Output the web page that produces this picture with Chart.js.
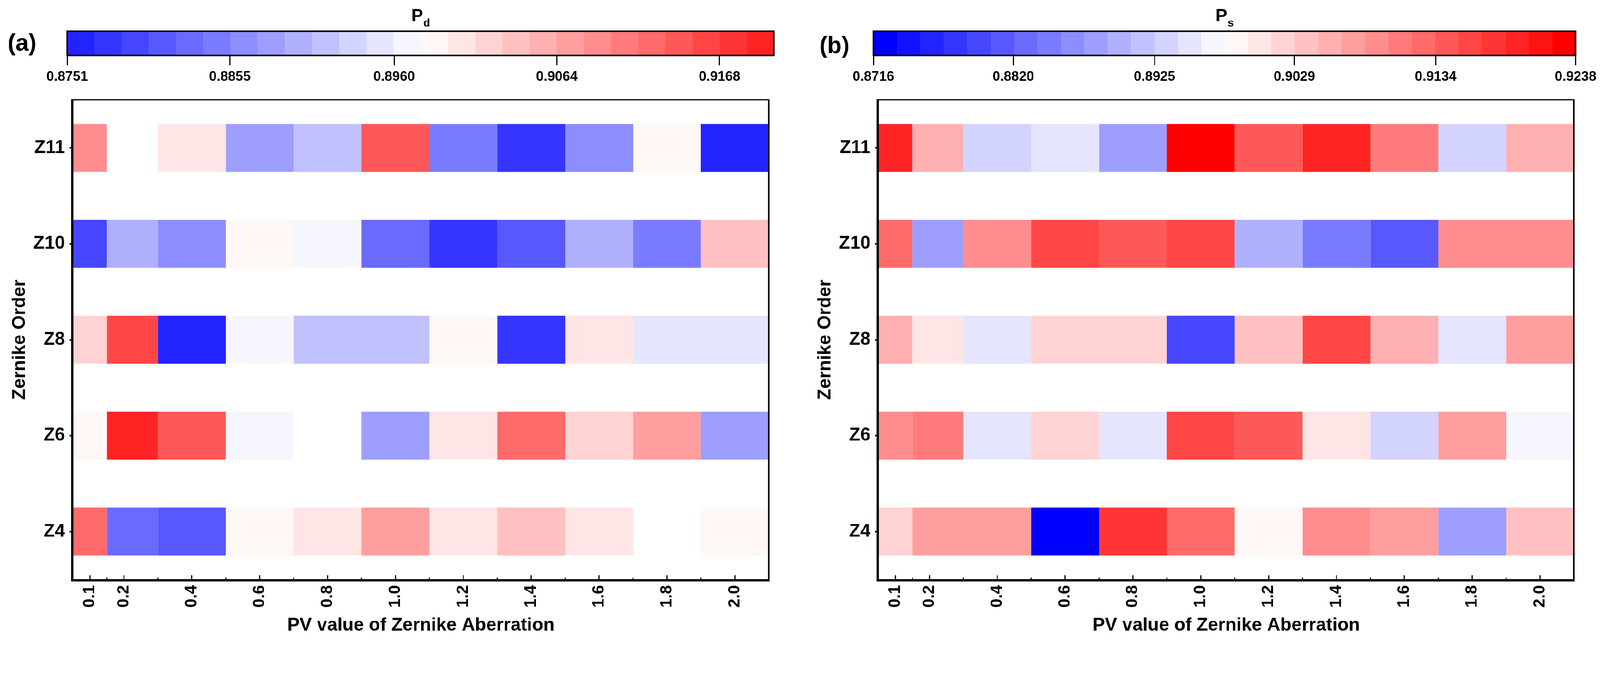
<!DOCTYPE html>
<html>
  <head>
    <meta charset="utf-8" />
    <title>Zernike Order / PV value heatmaps</title>
    <script src="https://cdn.jsdelivr.net/npm/chart.js@4"></script>
    <style>
      html, body { margin: 0; padding: 0; background: #fff; overflow: hidden; }
      body { width: 100vw; height: 100vh; }
      #wrap { position: relative; width: 4360px; height: 1749px; transform-origin: 0 0; }
      canvas { position: absolute; }
    </style>
  </head>
  <body>
    <div id="wrap">
      <!-- 컬러바 + 히트맵, 패널 두 개 -->
      <canvas id="barA" width="2180" height="230" style="left:0px;top:0px"></canvas>
      <canvas id="mapA" width="2180" height="1519" style="left:0px;top:230px"></canvas>
      <canvas id="barB" width="2180" height="230" style="left:2180px;top:0px"></canvas>
      <canvas id="mapB" width="2180" height="1519" style="left:2180px;top:230px"></canvas>
    </div>

    <script>
      // 축 / 범주
      const zernikeOrders = ["Z11", "Z10", "Z8", "Z6", "Z4"];
      const pvValues = [0.1, 0.2, 0.4, 0.6, 0.8, 1.0, 1.2, 1.4, 1.6, 1.8, 2.0];
      const pvEdges = [0.05, 0.15, 0.3, 0.5, 0.7, 0.9, 1.1, 1.3, 1.5, 1.7, 1.9, 2.1];
      const pvMinorTicks = [0.15, 0.3, 0.5, 0.7, 0.9, 1.1, 1.3, 1.5, 1.7, 1.9];

      // (a) Pd
      const pdZ11 = [0.9090, null, 0.9003, 0.8881, 0.8916, 0.9142, 0.8847, 0.8777, 0.8864, 0.8986, 0.8760];
      const pdZ10 = [0.8794, 0.8899, 0.8864, 0.8986, 0.8968, 0.8829, 0.8777, 0.8812, 0.8899, 0.8847, 0.9038];
      const pdZ8 = [0.9020, 0.9159, 0.8760, 0.8968, 0.8916, 0.8916, 0.8986, 0.8777, 0.9003, 0.8951, 0.8951];
      const pdZ6 = [0.8986, 0.9194, 0.9142, 0.8968, null, 0.8881, 0.9003, 0.9125, 0.9020, 0.9072, 0.8881];
      const pdZ4 = [0.9125, 0.8829, 0.8812, 0.8986, 0.9003, 0.9072, 0.9003, 0.9038, 0.9003, null, 0.8986];

      // (b) Ps
      const psZ11 = [0.9195, 0.9055, 0.8934, 0.8951, 0.8881, 0.9229, 0.9142, 0.9195, 0.9108, 0.8934, 0.9055];
      const psZ10 = [0.9125, 0.8881, 0.9090, 0.9160, 0.9142, 0.9160, 0.8899, 0.8847, 0.8812, 0.9090, 0.9090];
      const psZ8 = [0.9055, 0.9003, 0.8951, 0.9020, 0.9020, 0.8794, 0.9038, 0.9160, 0.9055, 0.8951, 0.9073];
      const psZ6 = [0.9090, 0.9108, 0.8951, 0.9020, 0.8951, 0.9160, 0.9142, 0.9003, 0.8934, 0.9073, 0.8968];
      const psZ4 = [0.9020, 0.9073, 0.9073, 0.8725, 0.9177, 0.9125, 0.8986, 0.9090, 0.9073, 0.8881, 0.9038];

      // 컬러바 눈금
      const pdTicks = [0.8751, 0.8855, 0.8960, 0.9064, 0.9168];
      const psTicks = [0.8716, 0.8820, 0.8925, 0.9029, 0.9134, 0.9238];
      const pdRange = [0.8751, 0.920275];
      const psRange = [0.8716, 0.9238];
      const pdLevels = 26;
      const psLevels = 30;

      // 창 크기에 맞춰 전체 배율 조정
      const fit = Math.min(window.innerWidth / 4360, window.innerHeight / 1749);
      if (Math.abs(fit - 1) > 0.001) {
        document.getElementById("wrap").style.transform = `scale(${fit})`;
      }

      const FONT = '"Liberation Sans", Arial, sans-serif';
      Chart.defaults.font.family = FONT;
      Chart.defaults.font.weight = "bold";
      Chart.defaults.color = "#000";

      // bwr 컬러맵 30 단계
      function bwr(t) {
        if (t < 0.5) {
          const c = Math.round(510 * t);
          return `rgb(${c},${c},255)`;
        }
        const c = Math.round(510 * (1 - t));
        return `rgb(255,${c},${c})`;
      }
      const palette = [];
      for (let j = 0; j < 30; j++) palette.push(bwr(j / 29));

      function makePanel(cfg) {
        const step = (cfg.range[1] - cfg.range[0]) / cfg.levels;
        const colorFor = (v) => {
          let k = Math.floor((v - cfg.range[0]) / step);
          k = Math.max(0, Math.min(cfg.levels - 1, k));
          return palette[k + cfg.offset];
        };

        // ---- 컬러바 ----
        const barDatasets = [];
        for (let k = 0; k < cfg.levels; k++) {
          barDatasets.push({
            data: [[cfg.range[0] + k * step, cfg.range[0] + (k + 1) * step]],
            backgroundColor: palette[k + cfg.offset],
            barPercentage: 1,
            categoryPercentage: 1,
            grouped: false,
            borderWidth: 0,
          });
        }

        const barDeco = {
          id: "barDeco",
          afterDatasetsDraw(chart) {
            const { ctx, chartArea: a } = chart;
            ctx.save();
            ctx.strokeStyle = "#000";
            ctx.lineWidth = 4;
            ctx.strokeRect(a.left, a.top, a.right - a.left, a.bottom - a.top);
            // 제목 P + 아래첨자
            const cx = (a.left + a.right) / 2;
            ctx.fillStyle = "#000";
            ctx.textBaseline = "alphabetic";
            ctx.font = `bold 48px ${FONT}`;
            const pw = ctx.measureText("P").width;
            ctx.font = `bold 30px ${FONT}`;
            const sw = ctx.measureText(cfg.sub).width;
            const x0 = cx - (pw + sw) / 2;
            ctx.font = `bold 48px ${FONT}`;
            ctx.textAlign = "left";
            ctx.fillText("P", x0, 58);
            ctx.font = `bold 30px ${FONT}`;
            ctx.fillText(cfg.sub, x0 + pw + 1, 72);
            // 패널 라벨
            ctx.font = `bold 64px ${FONT}`;
            ctx.textBaseline = "middle";
            ctx.fillText(cfg.panelLabel, cfg.panelX, cfg.panelY);
            ctx.restore();
          },
        };

        new Chart(document.getElementById(cfg.barId), {
          type: "bar",
          data: { labels: [""], datasets: barDatasets },
          options: {
            indexAxis: "y",
            responsive: false,
            animation: false,
            devicePixelRatio: 1,
            layout: { padding: { left: cfg.barLeft, right: 2180 - cfg.barRight, top: 85, bottom: 0 } },
            plugins: { legend: { display: false }, tooltip: { enabled: false } },
            scales: {
              x: {
                type: "linear",
                min: cfg.range[0],
                max: cfg.range[1],
                afterBuildTicks: (s) => {
                  s.ticks = cfg.ticks.map((v) => ({ value: v }));
                },
                afterFit: (s) => {
                  s.height = 79;
                },
                ticks: {
                  autoSkip: false,
                  maxRotation: 0,
                  padding: 10,
                  font: { size: 37, weight: "bold" },
                  callback: (v) => Number(v).toFixed(4),
                },
                grid: { drawOnChartArea: false, drawTicks: true, tickLength: 27, tickWidth: 3, tickColor: "#000" },
                border: { display: false },
              },
              y: { display: false },
            },
          },
          plugins: [barDeco],
        });

        // ---- 히트맵 ----
        const rows = cfg.rows;
        const mapDatasets = pvValues.map((pv, ci) => ({
          label: String(pv),
          data: rows.map((r) => (r[ci] == null ? null : [pvEdges[ci], pvEdges[ci + 1]])),
          backgroundColor: rows.map((r) => (r[ci] == null ? "rgba(0,0,0,0)" : colorFor(r[ci]))),
          barPercentage: 0.5,
          categoryPercentage: 1,
          grouped: false,
          borderWidth: 0,
        }));

        const frame = {
          id: "frame",
          afterDatasetsDraw(chart) {
            const { ctx, chartArea: a, scales } = chart;
            const x = scales.x;
            ctx.save();
            ctx.strokeStyle = "#000";
            ctx.lineWidth = 3;
            ctx.beginPath();
            pvValues.forEach((v) => {
              const px = x.getPixelForValue(v);
              ctx.moveTo(px, a.bottom);
              ctx.lineTo(px, a.bottom - 12);
            });
            pvMinorTicks.forEach((v) => {
              const px = x.getPixelForValue(v);
              ctx.moveTo(px, a.bottom);
              ctx.lineTo(px, a.bottom - 6);
            });
            ctx.stroke();
            ctx.lineWidth = 4;
            ctx.beginPath();
            ctx.moveTo(a.left, a.top);
            ctx.lineTo(a.right, a.top);
            ctx.lineTo(a.right, a.bottom);
            ctx.stroke();
            ctx.lineWidth = 6;
            ctx.beginPath();
            ctx.moveTo(a.left - 2, a.top - 2);
            ctx.lineTo(a.left - 2, a.bottom + 2);
            ctx.lineTo(a.right + 2, a.bottom + 2);
            ctx.stroke();
            ctx.restore();
          },
        };

        new Chart(document.getElementById(cfg.mapId), {
          type: "bar",
          data: { labels: zernikeOrders, datasets: mapDatasets },
          options: {
            indexAxis: "y",
            responsive: false,
            animation: false,
            devicePixelRatio: 1,
            layout: { padding: { left: 0, right: 2180 - cfg.mapRight, top: 13, bottom: 0 } },
            plugins: { legend: { display: false }, tooltip: { enabled: false } },
            scales: {
              x: {
                type: "linear",
                min: pvEdges[0],
                max: pvEdges[pvEdges.length - 1],
                afterBuildTicks: (s) => {
                  s.ticks = pvValues.map((v) => ({ value: v }));
                },
                afterFit: (s) => {
                  s.height = 169;
                },
                ticks: {
                  autoSkip: false,
                  minRotation: 90,
                  maxRotation: 90,
                  padding: 15,
                  font: { size: 44, weight: "bold" },
                  callback: (v) => Number(v).toFixed(1),
                },
                grid: { display: false, drawTicks: false },
                border: { display: false },
                title: {
                  display: true,
                  text: "PV value of Zernike Aberration",
                  font: { size: 50, weight: "bold" },
                  padding: { top: 0, bottom: 14 },
                },
              },
              y: {
                type: "category",
                afterFit: (s) => {
                  s.width = cfg.mapLeft;
                },
                ticks: { padding: 12, font: { size: 50, weight: "bold" } },
                grid: {
                  offset: false,
                  drawOnChartArea: false,
                  drawTicks: true,
                  tickLength: 10,
                  tickWidth: 4,
                  tickColor: "#000",
                },
                border: { display: false },
                title: {
                  display: true,
                  text: "Zernike Order",
                  font: { size: 50, weight: "bold" },
                  padding: { top: cfg.titlePad, bottom: 0 },
                },
              },
            },
          },
          plugins: [frame],
        });
      }

      makePanel({
        barId: "barA",
        mapId: "mapA",
        rows: [pdZ11, pdZ10, pdZ8, pdZ6, pdZ4],
        range: pdRange,
        levels: pdLevels,
        offset: 2,
        ticks: pdTicks,
        sub: "d",
        panelLabel: "(a)",
        panelX: 21,
        panelY: 120,
        barLeft: 183,
        barRight: 2109,
        mapLeft: 199,
        mapRight: 2095,
        titlePad: 24,
      });

      makePanel({
        barId: "barB",
        mapId: "mapB",
        rows: [psZ11, psZ10, psZ8, psZ6, psZ4],
        range: psRange,
        levels: psLevels,
        offset: 0,
        ticks: psTicks,
        sub: "s",
        panelLabel: "(b)",
        panelX: 53,
        panelY: 127,
        barLeft: 200,
        barRight: 2123,
        mapLeft: 214,
        mapRight: 2109,
        titlePad: 39,
      });
    </script>
  </body>
</html>
